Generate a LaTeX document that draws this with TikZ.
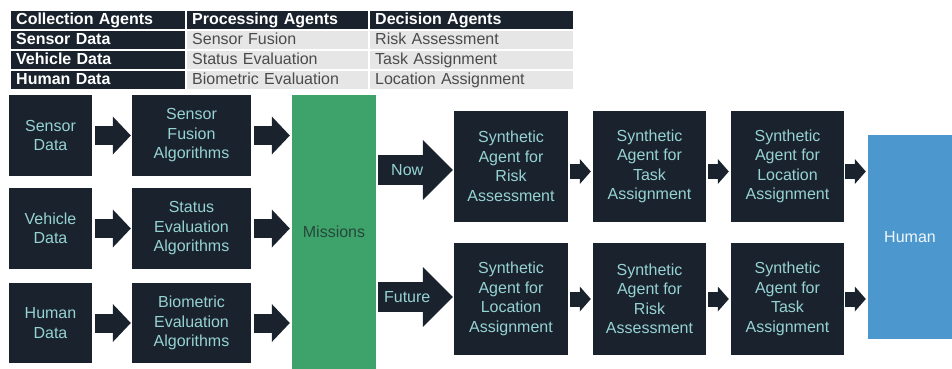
\documentclass[tikz,border=0pt]{standalone}
\usepackage{fontspec}
\setmainfont{Liberation Sans}
\usetikzlibrary{arrows.meta}

\definecolor{escuro}{RGB}{26,35,45}
\definecolor{verde}{RGB}{61,163,107}
\definecolor{azul}{RGB}{75,151,206}
\definecolor{ciano}{RGB}{150,210,212}
\definecolor{cinza}{RGB}{230,230,230}
\definecolor{textocinza}{RGB}{75,75,75}
\definecolor{textoverde}{RGB}{38,72,58}

\tikzset{
  caixa/.style={fill=escuro, text=ciano, align=center, inner sep=0pt,
    font=\fontsize{16}{19.5}\selectfont},
  celula/.style={anchor=north west, inner xsep=5pt, inner ysep=0pt, minimum height=18pt,
    text height=11.5pt, text depth=3pt, align=left, font=\fontsize{16}{17}\selectfont},
  titulo/.style={celula, fill=escuro, text=white, font=\fontsize{16}{17}\selectfont\bfseries},
  dado/.style={celula, fill=cinza, text=textocinza},
  seta/.style={draw=escuro, line width=19pt, -{Triangle[width=38pt,length=18pt,line width=0pt]}},
  setinha/.style={draw=escuro, line width=15pt, -{Triangle[width=25pt,length=11pt,line width=0pt]}},
  setao/.style={draw=escuro, line width=30pt, -{Triangle[width=60pt,length=30pt,line width=0pt]}},
}

\begin{document}
\begin{tikzpicture}[x=1pt, y=-1pt]
    \useasboundingbox (0,0) rectangle (952,369);

    % Tabela de agentes
    \node[titulo, text width=164pt] (t11) at (11,11) {Collection Agents};
    \node[titulo, text width=171pt] (t12) at (187,11) {Processing Agents};
    \node[titulo, text width=193pt] (t13) at (370,11) {Decision Agents};
    \node[titulo, text width=164pt] (t21) at (11,31) {Sensor Data};
    \node[dado, text width=171pt] (t22) at (187,31) {Sensor Fusion};
    \node[dado, text width=193pt] (t23) at (370,31) {Risk Assessment};
    \node[titulo, text width=164pt] (t31) at (11,51) {Vehicle Data};
    \node[dado, text width=171pt] (t32) at (187,51) {Status Evaluation};
    \node[dado, text width=193pt] (t33) at (370,51) {Task Assignment};
    \node[titulo, text width=164pt] (t41) at (11,71) {Human Data};
    \node[dado, text width=171pt] (t42) at (187,71) {Biometric Evaluation};
    \node[dado, text width=193pt] (t43) at (370,71) {Location Assignment};

    % Coleta
    \node[caixa, minimum width=83pt, minimum height=81pt] (sensor) at (50.5,135.5) {Sensor\\Data};
    \node[caixa, minimum width=83pt, minimum height=81pt] (veiculo) at (50.5,228.5) {Vehicle\\Data};
    \node[caixa, minimum width=83pt, minimum height=80pt] (humano) at (50.5,323) {Human\\Data};

    % Processamento
    \node[caixa, minimum width=119pt, minimum height=81pt] (fusao) at (191.5,135.5) {Sensor\\Fusion\\Algorithms};
    \node[caixa, minimum width=119pt, minimum height=81pt] (status) at (191.5,228.5) {Status\\Evaluation\\Algorithms};
    \node[caixa, minimum width=119pt, minimum height=80pt] (biom) at (191.5,323) {Biometric\\Evaluation\\Algorithms};

    % Missoes
    \node[fill=verde, text=textoverde, minimum width=84pt, minimum height=274pt,
      font=\fontsize{16}{19.5}\selectfont] (missoes) at (334,232) {Missions};

    % Agentes sinteticos
    \node[caixa, minimum width=114pt, minimum height=111pt] (risco) at (511,166.5) {Synthetic\\Agent for\\Risk\\Assessment};
    \node[caixa, minimum width=113pt, minimum height=111pt] (tarefa) at (649.5,166.5) {Synthetic\\Agent for\\Task\\Assignment};
    \node[caixa, minimum width=113pt, minimum height=111pt] (local) at (787.5,166.5) {Synthetic\\Agent for\\Location\\Assignment};
    \node[caixa, minimum width=114pt, minimum height=112pt] (local2) at (511,299) {Synthetic\\Agent for\\Location\\Assignment};
    \node[caixa, minimum width=113pt, minimum height=112pt] (risco2) at (649.5,299) {Synthetic\\Agent for\\Risk\\Assessment};
    \node[caixa, minimum width=113pt, minimum height=112pt] (tarefa2) at (787.5,299) {Synthetic\\Agent for\\Task\\Assignment};

    % Humano
    \node[fill=azul, text=white!92!azul, minimum width=84pt, minimum height=204pt,
      font=\fontsize{16}{19.5}\selectfont] (decisor) at (910,237) {Human};

    % Setas
    \draw[seta, shorten <=3pt, shorten >=1pt] (sensor) -- (fusao);
    \draw[seta, shorten <=3pt, shorten >=1pt] (veiculo) -- (status);
    \draw[seta, shorten <=3pt, shorten >=1pt] (humano) -- (biom);
    \draw[seta, shorten <=3pt, shorten >=2pt] (fusao.east) -- (missoes.west |- fusao);
    \draw[seta, shorten <=3pt, shorten >=2pt] (status.east) -- (missoes.west |- status);
    \draw[seta, shorten <=3pt, shorten >=2pt] (biom.east) -- (missoes.west |- biom);

    \draw[setao, shorten <=2pt, shorten >=1pt] ([yshift=-3.5pt]missoes.east |- risco) -- ([yshift=-3.5pt]risco.west)
      node[pos=0.4, text=ciano, font=\fontsize{16}{19.5}\selectfont] (agora) {Now};
    \draw[setao, shorten <=2pt, shorten >=1pt] ([yshift=2pt]missoes.east |- local2) -- ([yshift=2pt]local2.west)
      node[pos=0.4, text=ciano, font=\fontsize{16}{19.5}\selectfont] (futuro) {Future};

    \draw[setinha, shorten <=2pt, shorten >=2pt] ([yshift=-5pt]risco.east) -- ([yshift=-5pt]tarefa.west);
    \draw[setinha, shorten <=2pt, shorten >=2pt] ([yshift=-5pt]tarefa.east) -- ([yshift=-5pt]local.west);
    \draw[setinha, shorten <=1pt, shorten >=2pt] ([yshift=-5pt]local.east) -- ([yshift=-5pt]decisor.west |- local);
    \draw[setinha, shorten <=2pt, shorten >=2pt] (local2) -- (risco2);
    \draw[setinha, shorten <=2pt, shorten >=2pt] (risco2) -- (tarefa2);
    \draw[setinha, shorten <=1pt, shorten >=2pt] (tarefa2.east) -- (decisor.west |- tarefa2);

\end{tikzpicture}
\end{document}
